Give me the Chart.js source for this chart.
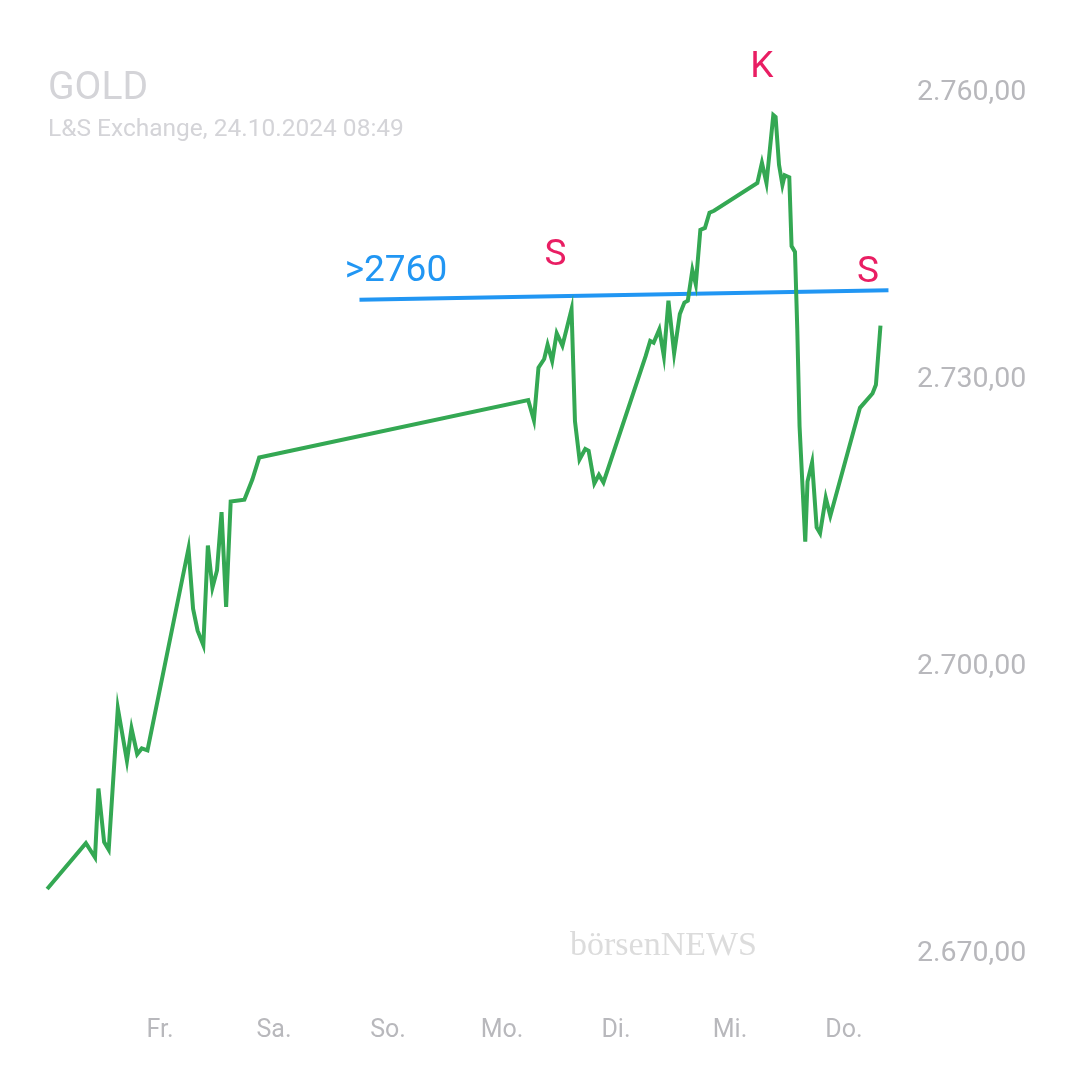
<!DOCTYPE html>
<html><head><meta charset="utf-8">
<script src="https://cdn.jsdelivr.net/npm/chart.js@4"></script>
<style>html,body{margin:0;background:#fff}#wrap{position:relative;width:1080px;height:1080px}</style>
</head><body><div id="wrap"><canvas id="c" width="1080" height="1080"></canvas></div>
<script>
// days: 0 = Fr., 1 = Sa., ... 6 = Do.
const dayLabels = ["Fr.", "Sa.", "So.", "Mo.", "Di.", "Mi.", "Do."];
const priceTimes = [-0.99,-0.65,-0.57,-0.54,-0.49,-0.45,-0.37,-0.29,-0.25,-0.20,-0.16,-0.11,0.25,0.29,0.33,0.38,0.42,0.46,0.50,0.54,0.58,0.62,0.74,0.81,0.87,3.23,3.28,3.32,3.37,3.40,3.44,3.48,3.53,3.61,3.64,3.68,3.73,3.76,3.81,3.85,3.89,4.26,4.30,4.33,4.38,4.42,4.46,4.51,4.56,4.60,4.63,4.67,4.70,4.74,4.78,4.82,4.86,5.24,5.28,5.32,5.38,5.40,5.43,5.46,5.48,5.52,5.54,5.57,5.59,5.61,5.66,5.68,5.72,5.76,5.79,5.84,5.88,6.14,6.25,6.28,6.32];
const priceValues = [2676.8,2681.6,2680.1,2687.3,2681.7,2680.9,2695.7,2690.2,2693.6,2690.9,2691.5,2691.3,2712.4,2706.1,2703.8,2702.3,2712.7,2708.3,2710.1,2716.2,2706.3,2717.3,2717.5,2719.6,2721.9,2727.9,2725.8,2731.3,2732.2,2733.7,2732.0,2734.9,2733.6,2737.4,2725.7,2721.7,2722.8,2722.6,2719.2,2720.1,2719.3,2732.5,2734.1,2733.9,2735.3,2732.5,2738.3,2732.8,2736.9,2738.1,2738.3,2741.5,2740.0,2745.7,2745.9,2747.5,2747.7,2750.6,2752.7,2750.6,2757.7,2757.5,2752.5,2750.4,2751.4,2751.2,2744.0,2743.4,2735.4,2725.2,2713.1,2719.4,2721.4,2714.6,2714.0,2717.7,2715.8,2727.1,2728.6,2729.5,2735.7];
const trendTimes = [1.75, 6.39];
const trendValues = [2738.4, 2739.4];
const yTicks = [2670, 2700, 2730, 2760];
const marks = [
  {t: 1.62, v: 2741.3, text: ">2760", color: "#2196f3", align: "left"},
  {t: 3.47, v: 2743.0, text: "S", color: "#e91e63", align: "center"},
  {t: 5.28, v: 2762.6, text: "K", color: "#e91e63", align: "center"},
  {t: 6.21, v: 2741.2, text: "S", color: "#e91e63", align: "center"}
];

const fmt = new Intl.NumberFormat("de-DE", {minimumFractionDigits: 2, maximumFractionDigits: 2});

const extras = {
  id: "extras",
  afterDraw(chart) {
    const ctx = chart.ctx, xs = chart.scales.x, ys = chart.scales.y;
    ctx.save();
    ctx.textBaseline = "middle";
    ctx.font = "39px Roboto";
    ctx.fillStyle = "#d4d4d8";
    ctx.textAlign = "left";
    ctx.fillText("GOLD", 48, 89);
    ctx.font = "24.5px Roboto";
    ctx.fillText("L&S Exchange, 24.10.2024 08:49", 48, 130);
    ctx.font = "34px 'Liberation Serif'";
    ctx.fillStyle = "#dcdcdc";
    ctx.fillText("börsenNEWS", 570, 946);
    marks.forEach(m => {
      ctx.font = "37px Roboto";
      ctx.fillStyle = m.color;
      ctx.textAlign = m.align;
      ctx.fillText(m.text, xs.getPixelForValue(m.t), ys.getPixelForValue(m.v));
    });
    ctx.restore();
  }
};

new Chart(document.getElementById("c"), {
  type: "line",
  data: {
    datasets: [
      {
        data: priceTimes.map((t, i) => ({x: t, y: priceValues[i]})),
        borderColor: "#34a853", borderWidth: 4, pointRadius: 0, tension: 0
      },
      {
        data: trendTimes.map((t, i) => ({x: t, y: trendValues[i]})),
        borderColor: "#2196f3", borderWidth: 4, pointRadius: 0
      }
    ]
  },
  options: {
    responsive: false, animation: false,
    layout: {padding: 0},
    plugins: {legend: {display: false}, tooltip: {enabled: false}},
    scales: {
      x: {
        type: "linear", min: -160 / 114, max: 740 / 114,
        grid: {display: false}, border: {display: false},
        afterBuildTicks: s => { s.ticks = dayLabels.map((_, i) => ({value: i})); },
        afterFit: s => { s.height = 80; },
        ticks: {color: "#b8b8bc", font: {size: 25, family: "Roboto"}, padding: 8, maxRotation: 0,
          callback: v => dayLabels[v]}
      },
      y: {
        position: "right", min: 2665.2, max: 2767.0,
        grid: {display: false}, border: {display: false},
        afterBuildTicks: s => { s.ticks = yTicks.map(v => ({value: v})); },
        afterFit: s => { s.width = 180; },
        ticks: {color: "#b8b8bc", font: {size: 28.5, family: "Roboto"}, padding: 9,
          callback: v => fmt.format(v)}
      }
    }
  },
  plugins: [extras]
});
</script></body></html>
